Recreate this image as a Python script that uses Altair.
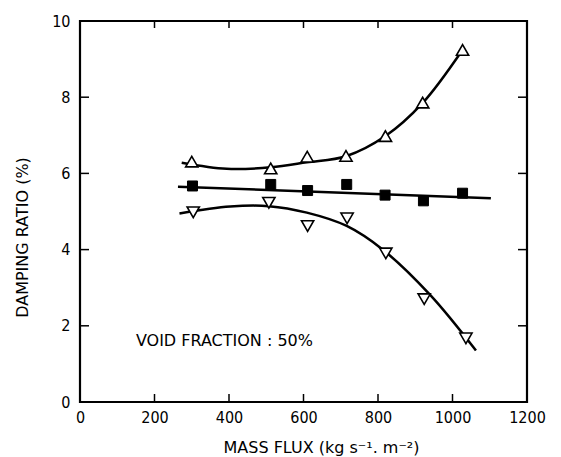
import altair as alt
import pandas as pd

# Measured points
mass_up = [300, 512, 610, 714, 820, 920, 1027]
ratio_up = [6.31, 6.13, 6.44, 6.46, 6.98, 7.86, 9.24]
mass_sq = [302, 512, 611, 716, 819, 922, 1027]
ratio_sq = [5.67, 5.71, 5.55, 5.71, 5.43, 5.28, 5.48]
mass_down = [304, 507, 611, 717, 821, 924, 1036]
ratio_down = [4.98, 5.23, 4.62, 4.82, 3.90, 2.70, 1.67]

# Fitted curves
curve_up_x = [273, 394, 512, 609, 714, 820, 920, 1024]
curve_up_y = [6.28, 6.12, 6.16, 6.29, 6.45, 6.98, 7.85, 9.20]
line_sq_x = [263, 1103]
line_sq_y = [5.65, 5.35]
curve_down_x = [267, 403, 507, 609, 716, 814, 940, 1063]
curve_down_y = [4.95, 5.13, 5.14, 4.97, 4.62, 3.99, 2.81, 1.35]

x_ticks = [0, 200, 400, 600, 800, 1000, 1200]
y_ticks = [0, 2, 4, 6, 8, 10]

note_text = ["VOID FRACTION : 50%"]
note_x = [150]
note_y = [1.6]

W, H = 447, 381
FONT = "DejaVu Sans Condensed"
TFONT = "DejaVu Sans"

xs = alt.Scale(domain=[0, 1200], nice=False, zero=False)
ys = alt.Scale(domain=[0, 10], nice=False, zero=False)

x_axis = alt.Axis(values=x_ticks, format="d", ticks=False, domain=False, grid=False,
                  labelFont=FONT, labelFontSize=16, labelColor="black",
                  labelPadding=7, labelFlush=False,
                  title="MASS FLUX (kg s\u207b\u00b9. m\u207b\u00b2)",
                  titleFont=TFONT, titleFontSize=16, titleFontWeight="normal",
                  titleColor="black", titleX=241, titleY=45,
                  titleBaseline="middle", titleAnchor="middle", titleAlign="center")
y_axis = alt.Axis(values=y_ticks, format="d", ticks=False, domain=False, grid=False,
                  labelFont=FONT, labelFontSize=16, labelColor="black",
                  labelPadding=10, labelFlush=False,
                  title="DAMPING RATIO (%)",
                  titleFont=TFONT, titleFontSize=16, titleFontWeight="normal",
                  titleColor="black", titleX=-58, titleY=216,
                  titleBaseline="middle", titleAlign="center", titleAngle=270)

df_up = pd.DataFrame({"x": mass_up, "y": ratio_up})
df_sq = pd.DataFrame({"x": mass_sq, "y": ratio_sq})
df_down = pd.DataFrame({"x": mass_down, "y": ratio_down})
df_cu = pd.DataFrame({"x": curve_up_x, "y": curve_up_y})
df_ls = pd.DataFrame({"x": line_sq_x, "y": line_sq_y})
df_cd = pd.DataFrame({"x": curve_down_x, "y": curve_down_y})
df_xt = pd.DataFrame({"x": x_ticks})
df_yt = pd.DataFrame({"y": y_ticks})
df_note = pd.DataFrame({"x": note_x, "y": note_y, "t": note_text})

base_axes = alt.Chart(df_cu).mark_line(
    stroke="black", strokeWidth=2.5, interpolate="catmull-rom"
).encode(
    x=alt.X("x:Q", scale=xs, axis=x_axis),
    y=alt.Y("y:Q", scale=ys, axis=y_axis),
)

def line(df, interp="catmull-rom"):
    return alt.Chart(df).mark_line(stroke="black", strokeWidth=2.5, interpolate=interp).encode(
        x=alt.X("x:Q", scale=xs), y=alt.Y("y:Q", scale=ys))

sq_line = line(df_ls, "linear")
down_line = line(df_cd)

up_pts = alt.Chart(df_up).mark_point(
    shape="triangle-up", size=150, filled=True, fill="white", stroke="black", strokeWidth=1.6, opacity=1
).encode(x=alt.X("x:Q", scale=xs), y=alt.Y("y:Q", scale=ys))
down_pts = alt.Chart(df_down).mark_point(
    shape="triangle-down", size=150, filled=True, fill="white", stroke="black", strokeWidth=1.6, opacity=1
).encode(x=alt.X("x:Q", scale=xs), y=alt.Y("y:Q", scale=ys))
sq_pts = alt.Chart(df_sq).mark_point(
    shape="square", size=100, filled=True, fill="black", stroke="black", strokeWidth=1, opacity=1
).encode(x=alt.X("x:Q", scale=xs), y=alt.Y("y:Q", scale=ys))

bottom_ticks = alt.Chart(df_xt).mark_rule(color="black", strokeWidth=1.5).encode(
    x=alt.X("x:Q", scale=xs), y=alt.value(H), y2=alt.value(H - 8))
top_ticks = alt.Chart(df_xt).mark_rule(color="black", strokeWidth=1.5).encode(
    x=alt.X("x:Q", scale=xs), y=alt.value(0), y2=alt.value(7))
left_ticks = alt.Chart(df_yt).mark_rule(color="black", strokeWidth=1.5).encode(
    y=alt.Y("y:Q", scale=ys), x=alt.value(0), x2=alt.value(9))
right_ticks = alt.Chart(df_yt).mark_rule(color="black", strokeWidth=1.5).encode(
    y=alt.Y("y:Q", scale=ys), x=alt.value(W), x2=alt.value(W - 9))

note = alt.Chart(df_note).mark_text(
    align="left", baseline="middle", font=TFONT, fontSize=16, color="black"
).encode(x=alt.X("x:Q", scale=xs), y=alt.Y("y:Q", scale=ys), text="t:N")

chart = alt.layer(
    base_axes, sq_line, down_line, up_pts, down_pts, sq_pts,
    bottom_ticks, top_ticks, left_ticks, right_ticks, note
).properties(
    width=W, height=H,
    autosize=alt.AutoSizeParams(type="none"),
    padding={"left": 80, "top": 21, "right": 34, "bottom": 55},
    background="white",
).configure_view(stroke="black", strokeWidth=2.2)

chart.save("out.html", embed_options={"renderer": "svg", "actions": False})
